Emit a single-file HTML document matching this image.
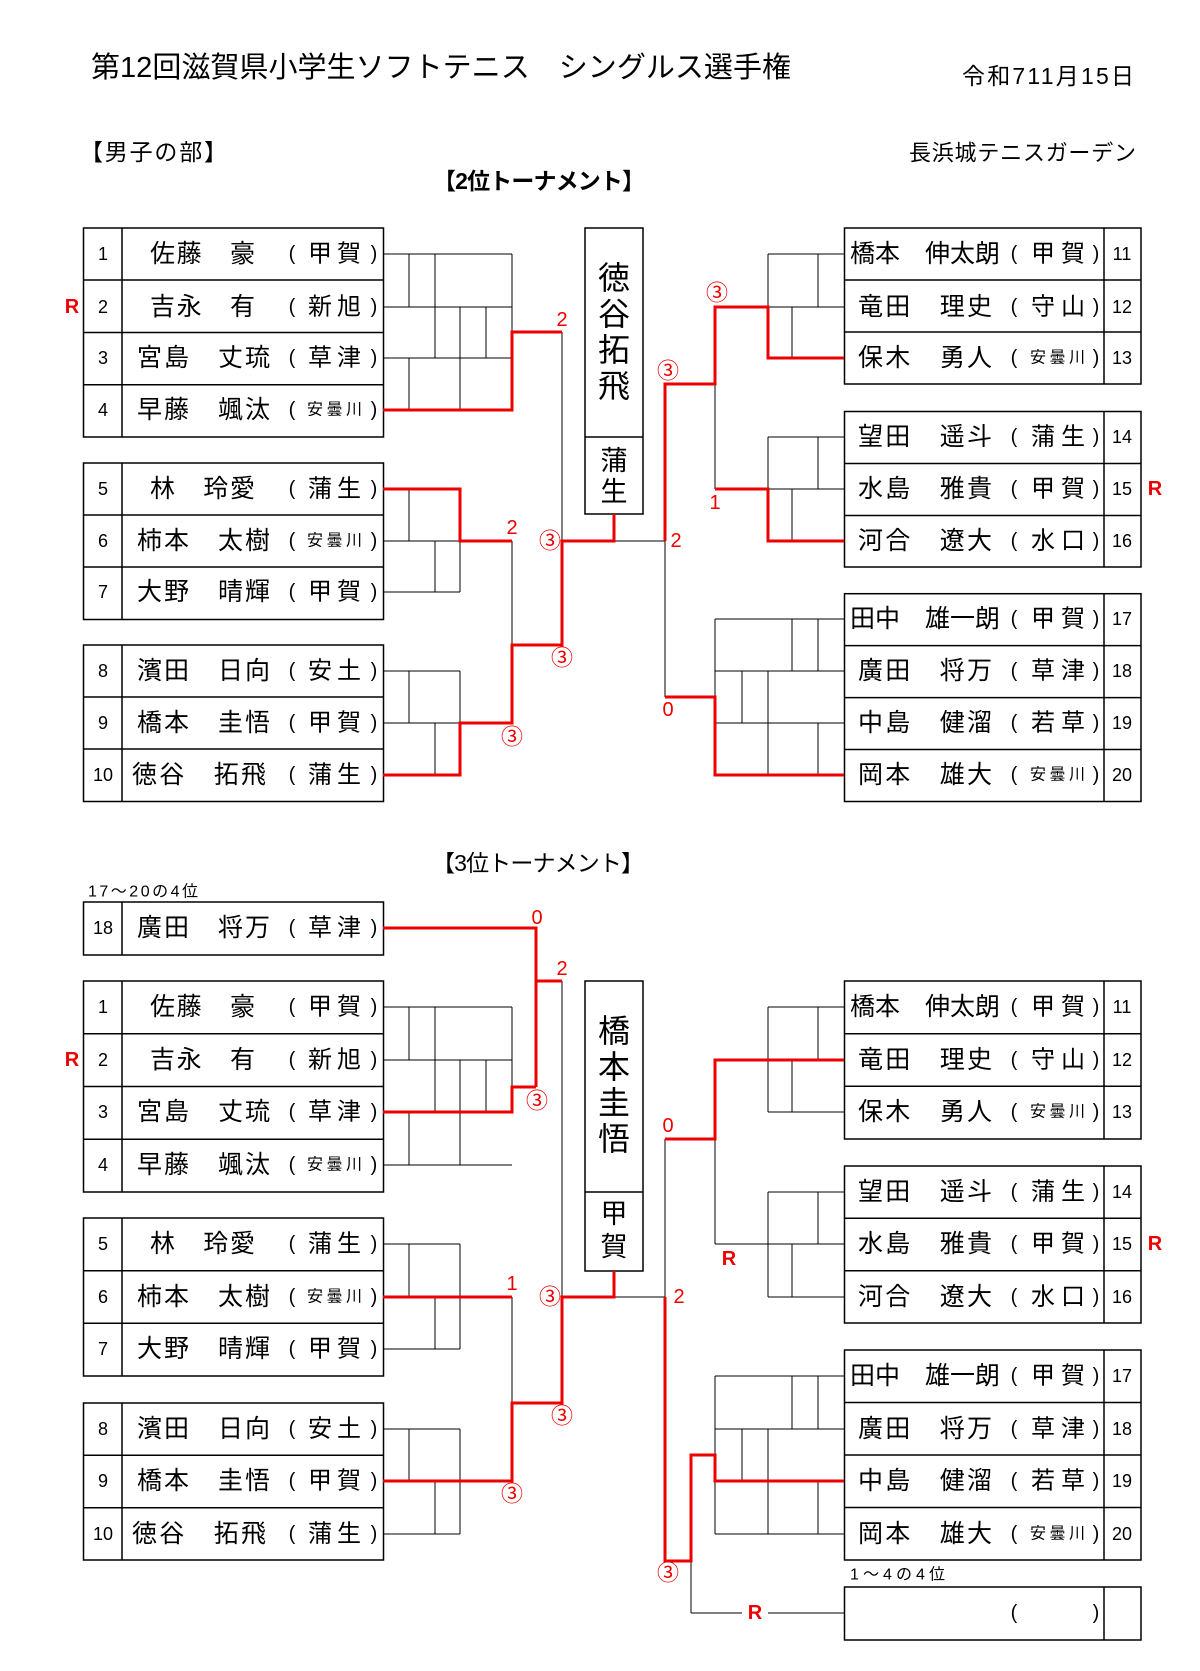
<!DOCTYPE html>
<html><head><meta charset="utf-8"><style>
html,body{margin:0;padding:0;background:#fff;}
svg{display:block;}
text{font-family:"Liberation Sans","Noto Sans CJK JP",sans-serif;fill:#000;}
.n{font-size:18px;text-anchor:middle;dominant-baseline:central;}
.nm{font-size:25px;dominant-baseline:central;}
.af{font-size:24px;dominant-baseline:central;}
.afs{font-size:16px;dominant-baseline:central;}
.p{font-size:20px;dominant-baseline:central;text-anchor:middle;}
.r{fill:#e00;font-size:20px;text-anchor:middle;dominant-baseline:central;}
.rb{fill:#e00;font-size:20px;font-weight:bold;text-anchor:middle;dominant-baseline:central;}
.c{fill:#e00;font-size:22px;text-anchor:middle;dominant-baseline:central;}
.k line,.k polyline{stroke:#000;stroke-width:1;fill:none;}
.red line,.red polyline{stroke:#e00;stroke-width:3;fill:none;}
.bx rect,.bx line{stroke:#000;stroke-width:1.5;fill:none;}
</style></head><body>
<svg width="1200" height="1671" viewBox="0 0 1200 1671" xmlns="http://www.w3.org/2000/svg">
<text x="91" y="68" style="font-size:29px;dominant-baseline:central" textLength="700">第12回滋賀県小学生ソフトテニス　シングルス選手権</text>
<text x="962" y="76" style="font-size:23px;dominant-baseline:central" textLength="172">令和711月15日</text>
<text x="80" y="152" style="font-size:23px;dominant-baseline:central" textLength="147">【男子の部】</text>
<text x="1136" y="153" style="font-size:22px;dominant-baseline:central;text-anchor:end" textLength="227">長浜城テニスガーデン</text>
<text x="539" y="181" style="font-size:23px;font-weight:bold;dominant-baseline:central;text-anchor:middle" textLength="212">【2位トーナメント】</text>
<text x="538" y="863" style="font-size:23px;dominant-baseline:central;text-anchor:middle" textLength="212">【3位トーナメント】</text>
<text x="88" y="892" style="font-size:16px;dominant-baseline:central" textLength="110">17～20の4位</text>
<text x="850" y="1575" style="font-size:16px;dominant-baseline:central" textLength="95">1～4の4位</text>

<!-- boxes -->
<g class="bx">
<!-- top left -->
<rect x="83.5" y="228" width="300" height="209"/><line x1="122" y1="228" x2="122" y2="437"/>
<line x1="83.5" y1="280" x2="383.5" y2="280"/><line x1="83.5" y1="332.5" x2="383.5" y2="332.5"/><line x1="83.5" y1="384.7" x2="383.5" y2="384.7"/>
<rect x="83.5" y="463" width="300" height="156.5"/><line x1="122" y1="463" x2="122" y2="619.5"/>
<line x1="83.5" y1="515" x2="383.5" y2="515"/><line x1="83.5" y1="567" x2="383.5" y2="567"/>
<rect x="83.5" y="645" width="300" height="156.5"/><line x1="122" y1="645" x2="122" y2="801.5"/>
<line x1="83.5" y1="697" x2="383.5" y2="697"/><line x1="83.5" y1="749" x2="383.5" y2="749"/>
<!-- top right -->
<rect x="844.5" y="228" width="296.5" height="156"/><line x1="1104" y1="228" x2="1104" y2="384"/>
<line x1="844.5" y1="280" x2="1141" y2="280"/><line x1="844.5" y1="332" x2="1141" y2="332"/>
<rect x="844.5" y="411.5" width="296.5" height="155.5"/><line x1="1104" y1="411.5" x2="1104" y2="567"/>
<line x1="844.5" y1="463.5" x2="1141" y2="463.5"/><line x1="844.5" y1="515.5" x2="1141" y2="515.5"/>
<rect x="844.5" y="593.7" width="296.5" height="207.8"/><line x1="1104" y1="593.7" x2="1104" y2="801.5"/>
<line x1="844.5" y1="645.6" x2="1141" y2="645.6"/><line x1="844.5" y1="697.6" x2="1141" y2="697.6"/><line x1="844.5" y1="749.5" x2="1141" y2="749.5"/>
<!-- center top -->
<rect x="585" y="228" width="58" height="286"/><line x1="585" y1="437" x2="643" y2="437"/>
<!-- bottom left -->
<rect x="83.5" y="902" width="300" height="53"/><line x1="122" y1="902" x2="122" y2="955"/>
<rect x="83.5" y="981" width="300" height="211"/><line x1="122" y1="981" x2="122" y2="1192"/>
<line x1="83.5" y1="1033.7" x2="383.5" y2="1033.7"/><line x1="83.5" y1="1086.5" x2="383.5" y2="1086.5"/><line x1="83.5" y1="1139.2" x2="383.5" y2="1139.2"/>
<rect x="83.5" y="1218" width="300" height="158"/><line x1="122" y1="1218" x2="122" y2="1376"/>
<line x1="83.5" y1="1270.7" x2="383.5" y2="1270.7"/><line x1="83.5" y1="1323.3" x2="383.5" y2="1323.3"/>
<rect x="83.5" y="1403" width="300" height="157"/><line x1="122" y1="1403" x2="122" y2="1560"/>
<line x1="83.5" y1="1455.3" x2="383.5" y2="1455.3"/><line x1="83.5" y1="1507.7" x2="383.5" y2="1507.7"/>
<!-- bottom right -->
<rect x="844.5" y="981" width="296.5" height="158"/><line x1="1104" y1="981" x2="1104" y2="1139"/>
<line x1="844.5" y1="1033.7" x2="1141" y2="1033.7"/><line x1="844.5" y1="1086.3" x2="1141" y2="1086.3"/>
<rect x="844.5" y="1166" width="296.5" height="157"/><line x1="1104" y1="1166" x2="1104" y2="1323"/>
<line x1="844.5" y1="1218.3" x2="1141" y2="1218.3"/><line x1="844.5" y1="1270.7" x2="1141" y2="1270.7"/>
<rect x="844.5" y="1350" width="296.5" height="210"/><line x1="1104" y1="1350" x2="1104" y2="1560"/>
<line x1="844.5" y1="1402.5" x2="1141" y2="1402.5"/><line x1="844.5" y1="1455" x2="1141" y2="1455"/><line x1="844.5" y1="1507.5" x2="1141" y2="1507.5"/>
<rect x="844.5" y="1587" width="296.5" height="53"/><line x1="1104" y1="1587" x2="1104" y2="1640"/>
<!-- center bottom -->
<rect x="585" y="981" width="58" height="290"/><line x1="585" y1="1192" x2="643" y2="1192"/>
</g>

<!-- black bracket lines -->
<g class="k">
<!-- top left g1 -->
<line x1="383" y1="254" x2="512" y2="254"/><line x1="383" y1="307" x2="512" y2="307"/><line x1="383" y1="358" x2="512" y2="358"/>
<line x1="409" y1="254" x2="409" y2="307"/><line x1="409" y1="358" x2="409" y2="410"/><line x1="435" y1="254" x2="435" y2="358"/>
<line x1="460" y1="307" x2="460" y2="410"/><line x1="486" y1="307" x2="486" y2="358"/><line x1="512" y1="254" x2="512" y2="332"/>
<line x1="562" y1="332" x2="562" y2="541"/>
<!-- g2 -->
<line x1="383" y1="541" x2="460" y2="541"/><line x1="383" y1="592" x2="460" y2="592"/>
<line x1="409" y1="489" x2="409" y2="541"/><line x1="435" y1="541" x2="435" y2="592"/><line x1="460" y1="541" x2="460" y2="592"/>
<line x1="512" y1="541" x2="512" y2="645"/>
<!-- g3 -->
<line x1="383" y1="671" x2="460" y2="671"/><line x1="383" y1="723" x2="460" y2="723"/>
<line x1="409" y1="671" x2="409" y2="723"/><line x1="435" y1="723" x2="435" y2="775"/><line x1="460" y1="671" x2="460" y2="723"/>
<line x1="614" y1="541" x2="665" y2="541"/>
<!-- top right -->
<line x1="768" y1="254" x2="844" y2="254"/><line x1="768" y1="307" x2="844" y2="307"/>
<line x1="768" y1="254" x2="768" y2="307"/><line x1="818" y1="254" x2="818" y2="307"/><line x1="792" y1="307" x2="792" y2="358"/>
<line x1="715" y1="384" x2="715" y2="489"/>
<line x1="768" y1="437" x2="844" y2="437"/><line x1="768" y1="489" x2="844" y2="489"/>
<line x1="768" y1="437" x2="768" y2="489"/><line x1="818" y1="437" x2="818" y2="489"/><line x1="792" y1="489" x2="792" y2="541"/>
<line x1="665" y1="541" x2="665" y2="697"/>
<line x1="715" y1="619" x2="844" y2="619"/><line x1="715" y1="671" x2="844" y2="671"/><line x1="715" y1="723" x2="844" y2="723"/>
<line x1="715" y1="619" x2="715" y2="697"/><line x1="792" y1="619" x2="792" y2="671"/><line x1="818" y1="619" x2="818" y2="671"/>
<line x1="742" y1="671" x2="742" y2="723"/><line x1="768" y1="671" x2="768" y2="775"/><line x1="818" y1="723" x2="818" y2="775"/>

<!-- bottom left -->
<line x1="536" y1="928" x2="536" y2="981"/>
<line x1="562" y1="981" x2="562" y2="1297"/>
<line x1="383" y1="1007" x2="512" y2="1007"/><line x1="383" y1="1060" x2="512" y2="1060"/><line x1="383" y1="1165" x2="512" y2="1165"/>
<line x1="409" y1="1007" x2="409" y2="1060"/><line x1="409" y1="1112" x2="409" y2="1165"/><line x1="435" y1="1007" x2="435" y2="1112"/>
<line x1="460" y1="1060" x2="460" y2="1165"/><line x1="486" y1="1060" x2="486" y2="1112"/><line x1="512" y1="1007" x2="512" y2="1087"/>
<line x1="383" y1="1244" x2="460" y2="1244"/><line x1="383" y1="1349" x2="460" y2="1349"/>
<line x1="409" y1="1244" x2="409" y2="1297"/><line x1="435" y1="1297" x2="435" y2="1349"/><line x1="460" y1="1244" x2="460" y2="1349"/>
<line x1="512" y1="1297" x2="512" y2="1403"/>
<line x1="383" y1="1429" x2="460" y2="1429"/><line x1="383" y1="1534" x2="460" y2="1534"/>
<line x1="409" y1="1429" x2="409" y2="1481"/><line x1="435" y1="1481" x2="435" y2="1534"/><line x1="460" y1="1429" x2="460" y2="1534"/>
<line x1="614" y1="1297" x2="665" y2="1297"/>
<!-- bottom right -->
<line x1="665" y1="1139" x2="665" y2="1297"/>
<line x1="768" y1="1007" x2="844" y2="1007"/><line x1="768" y1="1112" x2="844" y2="1112"/>
<line x1="768" y1="1007" x2="768" y2="1112"/><line x1="818" y1="1007" x2="818" y2="1060"/><line x1="792" y1="1060" x2="792" y2="1112"/>
<line x1="715" y1="1139" x2="715" y2="1244"/><line x1="715" y1="1244" x2="844" y2="1244"/>
<line x1="768" y1="1192" x2="844" y2="1192"/><line x1="768" y1="1297" x2="844" y2="1297"/>
<line x1="768" y1="1192" x2="768" y2="1297"/><line x1="818" y1="1192" x2="818" y2="1244"/><line x1="792" y1="1244" x2="792" y2="1297"/>
<line x1="715" y1="1376" x2="844" y2="1376"/><line x1="715" y1="1429" x2="844" y2="1429"/><line x1="715" y1="1534" x2="844" y2="1534"/>
<line x1="715" y1="1376" x2="715" y2="1455"/><line x1="715" y1="1481" x2="715" y2="1534"/>
<line x1="792" y1="1376" x2="792" y2="1429"/><line x1="818" y1="1376" x2="818" y2="1429"/>
<line x1="742" y1="1429" x2="742" y2="1481"/><line x1="768" y1="1429" x2="768" y2="1534"/><line x1="818" y1="1481" x2="818" y2="1534"/>
<line x1="691" y1="1561" x2="691" y2="1613"/><line x1="691" y1="1613" x2="742" y2="1613"/><line x1="768" y1="1613" x2="844" y2="1613"/>
</g>

<!-- red lines -->
<g class="red">
<polyline points="383,410 512,410 512,332 562,332"/>
<polyline points="383,489 460,489 460,541 512,541"/>
<polyline points="383,775 460,775 460,723 512,723 512,645 562,645 562,541 614,541 614,514"/>
<polyline points="844,358 768,358 768,307 715,307 715,384 665,384 665,541"/>
<polyline points="844,541 768,541 768,489 715,489"/>
<polyline points="844,775 715,775 715,697 665,697"/>
<!-- bottom -->
<polyline points="383,928 536,928 536,1087"/>
<polyline points="536,981 562,981"/>
<polyline points="383,1112 512,1112 512,1087 536,1087"/>
<polyline points="383,1297 512,1297"/>
<polyline points="383,1481 512,1481 512,1403 562,1403 562,1297 614,1297 614,1271"/>
<polyline points="844,1060 715,1060 715,1139 665,1139"/>
<polyline points="665,1297 665,1561 691,1561 691,1455 715,1455 715,1481 844,1481"/>
</g>

<!-- red labels -->
<text class="r" x="562" y="320">2</text>
<text class="r" x="512" y="528">2</text>
<text class="c" x="550" y="541">③</text>
<text class="c" x="562" y="658">③</text>
<text class="c" x="512" y="737">③</text>
<text class="r" x="676" y="541">2</text>
<text class="c" x="717" y="293">③</text>
<text class="c" x="668" y="371">③</text>
<text class="r" x="715" y="503">1</text>
<text class="r" x="668" y="710">0</text>
<text class="rb" x="72" y="307">R</text>
<text class="rb" x="1155" y="489">R</text>

<text class="r" x="537" y="918">0</text>
<text class="r" x="562" y="969">2</text>
<text class="c" x="537" y="1101">③</text>
<text class="r" x="512" y="1284">1</text>
<text class="c" x="550" y="1297">③</text>
<text class="c" x="562" y="1416">③</text>
<text class="c" x="512" y="1494">③</text>
<text class="r" x="679" y="1297">2</text>
<text class="r" x="668" y="1126">0</text>
<text class="rb" x="729" y="1259">R</text>
<text class="c" x="668" y="1573">③</text>
<text class="rb" x="755" y="1613">R</text>
<text class="rb" x="72" y="1060">R</text>
<text class="rb" x="1155" y="1244">R</text>

<!-- center names -->
<g style="font-size:32px;text-anchor:middle;dominant-baseline:central">
<text x="614" y="278">徳</text><text x="614" y="314">谷</text><text x="614" y="350">拓</text><text x="614" y="386">飛</text>
<text x="614" y="1031">橋</text><text x="614" y="1067">本</text><text x="614" y="1103">圭</text><text x="614" y="1139">悟</text>
</g>
<g style="font-size:27px;text-anchor:middle;dominant-baseline:central">
<text x="614" y="461">蒲</text><text x="614" y="492">生</text>
<text x="614" y="1214">甲</text><text x="614" y="1247">賀</text>
</g>

<!-- TOP LEFT entries -->
<text class="n" x="103" y="254">1</text><text class="nm" x="150" y="254" textLength="105">佐藤　豪</text><text class="p" x="292" y="254">(</text><text class="af" x="308" y="254" textLength="53">甲賀</text><text class="p" x="374" y="254">)</text>
<text class="n" x="103" y="307">2</text><text class="nm" x="150" y="307" textLength="105">吉永　有</text><text class="p" x="292" y="307">(</text><text class="af" x="308" y="307" textLength="53">新旭</text><text class="p" x="374" y="307">)</text>
<text class="n" x="103" y="358">3</text><text class="nm" x="137" y="358" textLength="133">宮島　丈琉</text><text class="p" x="292" y="358">(</text><text class="af" x="308" y="358" textLength="53">草津</text><text class="p" x="374" y="358">)</text>
<text class="n" x="103" y="410">4</text><text class="nm" x="137" y="410" textLength="133">早藤　颯汰</text><text class="p" x="292" y="410">(</text><text class="afs" x="307" y="410" textLength="55">安曇川</text><text class="p" x="374" y="410">)</text>
<text class="n" x="103" y="489">5</text><text class="nm" x="150" y="489" textLength="105">林　玲愛</text><text class="p" x="292" y="489">(</text><text class="af" x="308" y="489" textLength="53">蒲生</text><text class="p" x="374" y="489">)</text>
<text class="n" x="103" y="541">6</text><text class="nm" x="137" y="541" textLength="133">柿本　太樹</text><text class="p" x="292" y="541">(</text><text class="afs" x="307" y="541" textLength="55">安曇川</text><text class="p" x="374" y="541">)</text>
<text class="n" x="103" y="592">7</text><text class="nm" x="137" y="592" textLength="133">大野　晴輝</text><text class="p" x="292" y="592">(</text><text class="af" x="308" y="592" textLength="53">甲賀</text><text class="p" x="374" y="592">)</text>
<text class="n" x="103" y="671">8</text><text class="nm" x="137" y="671" textLength="133">濱田　日向</text><text class="p" x="292" y="671">(</text><text class="af" x="308" y="671" textLength="53">安土</text><text class="p" x="374" y="671">)</text>
<text class="n" x="103" y="723">9</text><text class="nm" x="137" y="723" textLength="133">橋本　圭悟</text><text class="p" x="292" y="723">(</text><text class="af" x="308" y="723" textLength="53">甲賀</text><text class="p" x="374" y="723">)</text>
<text class="n" x="103" y="775">10</text><text class="nm" x="132" y="775" textLength="134">徳谷　拓飛</text><text class="p" x="292" y="775">(</text><text class="af" x="308" y="775" textLength="53">蒲生</text><text class="p" x="374" y="775">)</text>

<!-- TOP RIGHT entries -->
<text class="nm" x="850" y="254" textLength="150">橋本　伸太朗</text><text class="p" x="1014" y="254">(</text><text class="af" x="1031" y="254" textLength="54">甲賀</text><text class="p" x="1096" y="254">)</text><text class="n" x="1122" y="254">11</text>
<text class="nm" x="858" y="307" textLength="134">竜田　理史</text><text class="p" x="1014" y="307">(</text><text class="af" x="1031" y="307" textLength="54">守山</text><text class="p" x="1096" y="307">)</text><text class="n" x="1122" y="307">12</text>
<text class="nm" x="858" y="358" textLength="134">保木　勇人</text><text class="p" x="1014" y="358">(</text><text class="afs" x="1030" y="358" textLength="55">安曇川</text><text class="p" x="1096" y="358">)</text><text class="n" x="1122" y="358">13</text>
<text class="nm" x="858" y="437" textLength="134">望田　遥斗</text><text class="p" x="1014" y="437">(</text><text class="af" x="1031" y="437" textLength="54">蒲生</text><text class="p" x="1096" y="437">)</text><text class="n" x="1122" y="437">14</text>
<text class="nm" x="858" y="489" textLength="134">水島　雅貴</text><text class="p" x="1014" y="489">(</text><text class="af" x="1031" y="489" textLength="54">甲賀</text><text class="p" x="1096" y="489">)</text><text class="n" x="1122" y="489">15</text>
<text class="nm" x="858" y="541" textLength="134">河合　遼大</text><text class="p" x="1014" y="541">(</text><text class="af" x="1031" y="541" textLength="54">水口</text><text class="p" x="1096" y="541">)</text><text class="n" x="1122" y="541">16</text>
<text class="nm" x="850" y="619" textLength="150">田中　雄一朗</text><text class="p" x="1014" y="619">(</text><text class="af" x="1031" y="619" textLength="54">甲賀</text><text class="p" x="1096" y="619">)</text><text class="n" x="1122" y="619">17</text>
<text class="nm" x="858" y="671" textLength="134">廣田　将万</text><text class="p" x="1014" y="671">(</text><text class="af" x="1031" y="671" textLength="54">草津</text><text class="p" x="1096" y="671">)</text><text class="n" x="1122" y="671">18</text>
<text class="nm" x="858" y="723" textLength="134">中島　健溜</text><text class="p" x="1014" y="723">(</text><text class="af" x="1031" y="723" textLength="54">若草</text><text class="p" x="1096" y="723">)</text><text class="n" x="1122" y="723">19</text>
<text class="nm" x="858" y="775" textLength="134">岡本　雄大</text><text class="p" x="1014" y="775">(</text><text class="afs" x="1030" y="775" textLength="55">安曇川</text><text class="p" x="1096" y="775">)</text><text class="n" x="1122" y="775">20</text>

<!-- BOTTOM LEFT entries -->
<text class="n" x="103" y="928">18</text><text class="nm" x="137" y="928" textLength="133">廣田　将万</text><text class="p" x="292" y="928">(</text><text class="af" x="308" y="928" textLength="53">草津</text><text class="p" x="374" y="928">)</text>
<text class="n" x="103" y="1007">1</text><text class="nm" x="150" y="1007" textLength="105">佐藤　豪</text><text class="p" x="292" y="1007">(</text><text class="af" x="308" y="1007" textLength="53">甲賀</text><text class="p" x="374" y="1007">)</text>
<text class="n" x="103" y="1060">2</text><text class="nm" x="150" y="1060" textLength="105">吉永　有</text><text class="p" x="292" y="1060">(</text><text class="af" x="308" y="1060" textLength="53">新旭</text><text class="p" x="374" y="1060">)</text>
<text class="n" x="103" y="1112">3</text><text class="nm" x="137" y="1112" textLength="133">宮島　丈琉</text><text class="p" x="292" y="1112">(</text><text class="af" x="308" y="1112" textLength="53">草津</text><text class="p" x="374" y="1112">)</text>
<text class="n" x="103" y="1165">4</text><text class="nm" x="137" y="1165" textLength="133">早藤　颯汰</text><text class="p" x="292" y="1165">(</text><text class="afs" x="307" y="1165" textLength="55">安曇川</text><text class="p" x="374" y="1165">)</text>
<text class="n" x="103" y="1244">5</text><text class="nm" x="150" y="1244" textLength="105">林　玲愛</text><text class="p" x="292" y="1244">(</text><text class="af" x="308" y="1244" textLength="53">蒲生</text><text class="p" x="374" y="1244">)</text>
<text class="n" x="103" y="1297">6</text><text class="nm" x="137" y="1297" textLength="133">柿本　太樹</text><text class="p" x="292" y="1297">(</text><text class="afs" x="307" y="1297" textLength="55">安曇川</text><text class="p" x="374" y="1297">)</text>
<text class="n" x="103" y="1349">7</text><text class="nm" x="137" y="1349" textLength="133">大野　晴輝</text><text class="p" x="292" y="1349">(</text><text class="af" x="308" y="1349" textLength="53">甲賀</text><text class="p" x="374" y="1349">)</text>
<text class="n" x="103" y="1429">8</text><text class="nm" x="137" y="1429" textLength="133">濱田　日向</text><text class="p" x="292" y="1429">(</text><text class="af" x="308" y="1429" textLength="53">安土</text><text class="p" x="374" y="1429">)</text>
<text class="n" x="103" y="1481">9</text><text class="nm" x="137" y="1481" textLength="133">橋本　圭悟</text><text class="p" x="292" y="1481">(</text><text class="af" x="308" y="1481" textLength="53">甲賀</text><text class="p" x="374" y="1481">)</text>
<text class="n" x="103" y="1534">10</text><text class="nm" x="132" y="1534" textLength="134">徳谷　拓飛</text><text class="p" x="292" y="1534">(</text><text class="af" x="308" y="1534" textLength="53">蒲生</text><text class="p" x="374" y="1534">)</text>

<!-- BOTTOM RIGHT entries -->
<text class="nm" x="850" y="1007" textLength="150">橋本　伸太朗</text><text class="p" x="1014" y="1007">(</text><text class="af" x="1031" y="1007" textLength="54">甲賀</text><text class="p" x="1096" y="1007">)</text><text class="n" x="1122" y="1007">11</text>
<text class="nm" x="858" y="1060" textLength="134">竜田　理史</text><text class="p" x="1014" y="1060">(</text><text class="af" x="1031" y="1060" textLength="54">守山</text><text class="p" x="1096" y="1060">)</text><text class="n" x="1122" y="1060">12</text>
<text class="nm" x="858" y="1112" textLength="134">保木　勇人</text><text class="p" x="1014" y="1112">(</text><text class="afs" x="1030" y="1112" textLength="55">安曇川</text><text class="p" x="1096" y="1112">)</text><text class="n" x="1122" y="1112">13</text>
<text class="nm" x="858" y="1192" textLength="134">望田　遥斗</text><text class="p" x="1014" y="1192">(</text><text class="af" x="1031" y="1192" textLength="54">蒲生</text><text class="p" x="1096" y="1192">)</text><text class="n" x="1122" y="1192">14</text>
<text class="nm" x="858" y="1244" textLength="134">水島　雅貴</text><text class="p" x="1014" y="1244">(</text><text class="af" x="1031" y="1244" textLength="54">甲賀</text><text class="p" x="1096" y="1244">)</text><text class="n" x="1122" y="1244">15</text>
<text class="nm" x="858" y="1297" textLength="134">河合　遼大</text><text class="p" x="1014" y="1297">(</text><text class="af" x="1031" y="1297" textLength="54">水口</text><text class="p" x="1096" y="1297">)</text><text class="n" x="1122" y="1297">16</text>
<text class="nm" x="850" y="1376" textLength="150">田中　雄一朗</text><text class="p" x="1014" y="1376">(</text><text class="af" x="1031" y="1376" textLength="54">甲賀</text><text class="p" x="1096" y="1376">)</text><text class="n" x="1122" y="1376">17</text>
<text class="nm" x="858" y="1429" textLength="134">廣田　将万</text><text class="p" x="1014" y="1429">(</text><text class="af" x="1031" y="1429" textLength="54">草津</text><text class="p" x="1096" y="1429">)</text><text class="n" x="1122" y="1429">18</text>
<text class="nm" x="858" y="1481" textLength="134">中島　健溜</text><text class="p" x="1014" y="1481">(</text><text class="af" x="1031" y="1481" textLength="54">若草</text><text class="p" x="1096" y="1481">)</text><text class="n" x="1122" y="1481">19</text>
<text class="nm" x="858" y="1534" textLength="134">岡本　雄大</text><text class="p" x="1014" y="1534">(</text><text class="afs" x="1030" y="1534" textLength="55">安曇川</text><text class="p" x="1096" y="1534">)</text><text class="n" x="1122" y="1534">20</text>
<text class="p" x="1014" y="1613">(</text><text class="p" x="1096" y="1613">)</text>
</svg>
</body></html>
